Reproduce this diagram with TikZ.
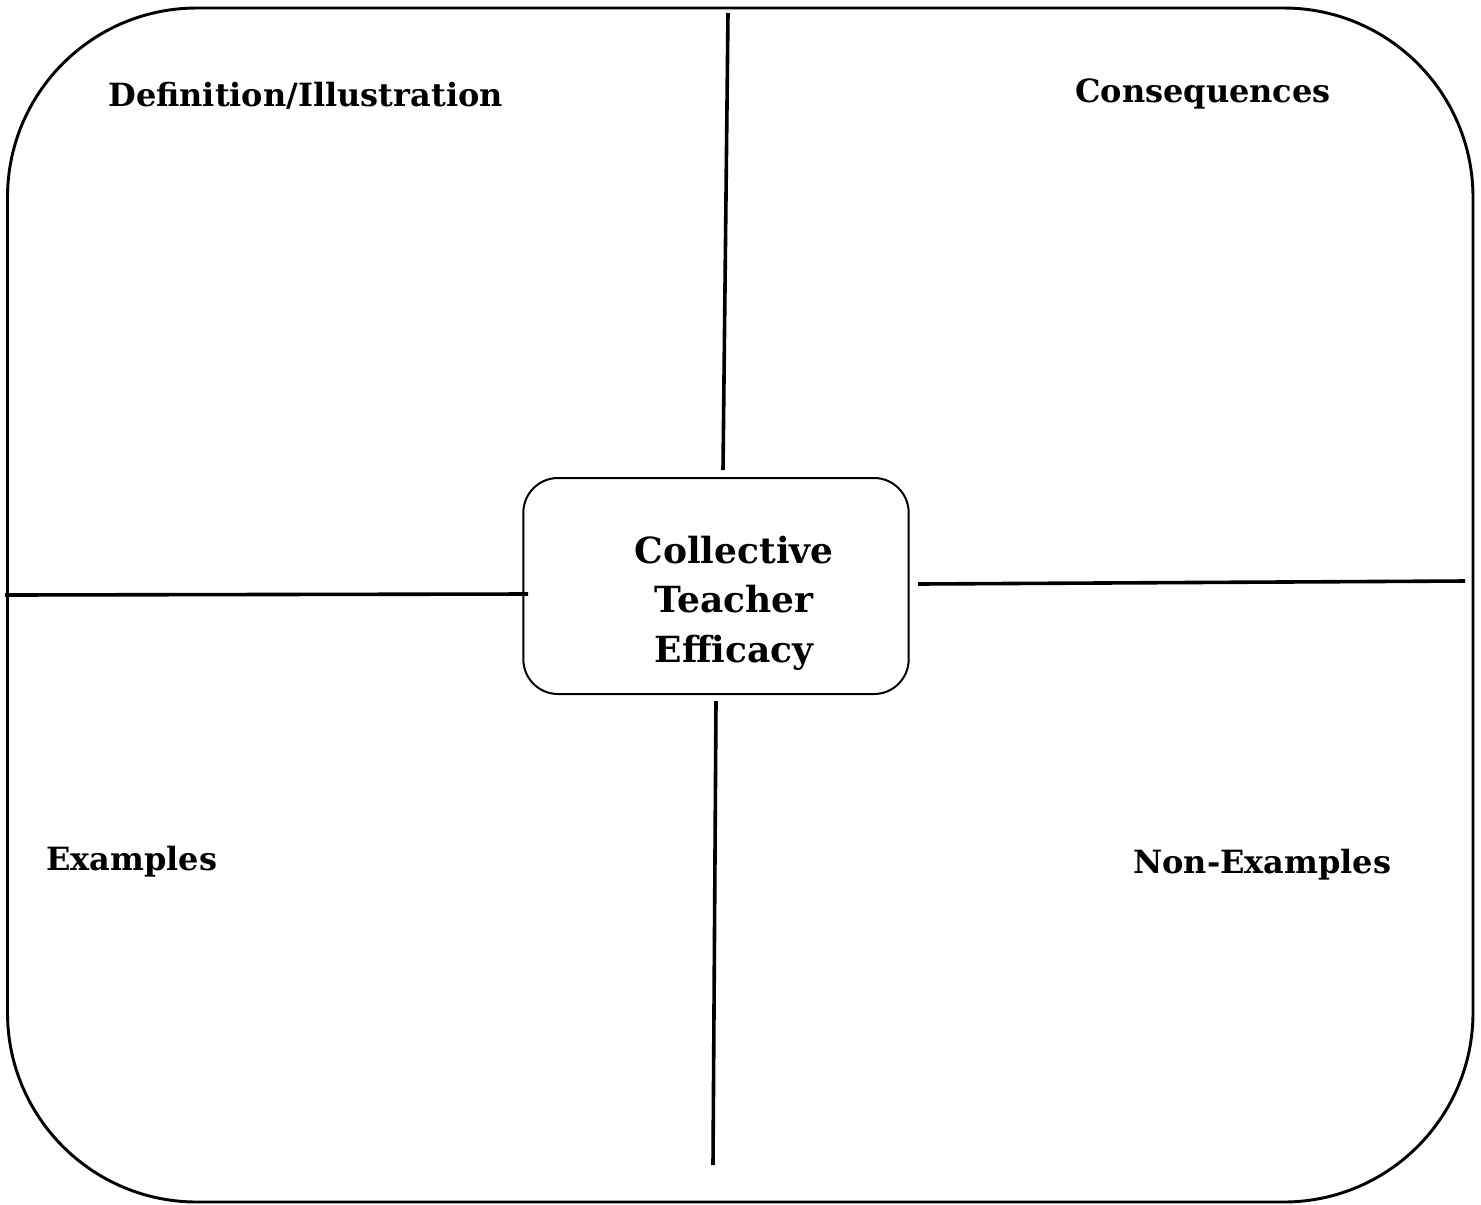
\documentclass[tikz,border=0pt]{standalone}
\usepackage{fontspec}
\setmainfont{DejaVu Serif}
\begin{document}
\begin{tikzpicture}[x=0.75pt,y=-0.75pt,
  label/.style={font=\bfseries\fontsize{24}{28}\selectfont, inner sep=0pt, anchor=base west},
  divider/.style={line width=2.7pt, line cap=butt},
  frame/.style={line width=2.2pt, rounded corners=142pt}]
\useasboundingbox (0,0) rectangle (1481,1204);
\draw[frame] (7.5,8) rectangle (1473,1202);
\node[draw, line width=1.5pt, rounded corners=26pt, minimum width=289pt, minimum height=162pt,
  inner sep=0pt] (cte) at (716,586) {};
\node[align=center, font=\bfseries\fontsize{27}{36.8}\selectfont, inner sep=0pt, anchor=base]
  (ctetext) at (734,662) {Collective\\Teacher\\Efficacy};
\coordinate (t1) at (728,13);  \coordinate (t2) at (723,470);
\coordinate (l1) at (5,595);   \coordinate (l2) at (528,594);
\coordinate (r1) at (918,584); \coordinate (r2) at (1465,581);
\coordinate (b1) at (716,701); \coordinate (b2) at (713,1165);
\draw[divider] (t1) -- (t2);
\draw[divider] (l1) -- (l2);
\draw[divider] (r1) -- (r2);
\draw[divider] (b1) -- (b2);
\node[label] (def) at (108,106) {Definition/Illustration};
\node[label] (con) at (1075,102) {Consequences};
\node[label] (ex) at (46,870) {Examples};
\node[label] (nex) at (1133,873) {Non-Examples};
\end{tikzpicture}
\end{document}
